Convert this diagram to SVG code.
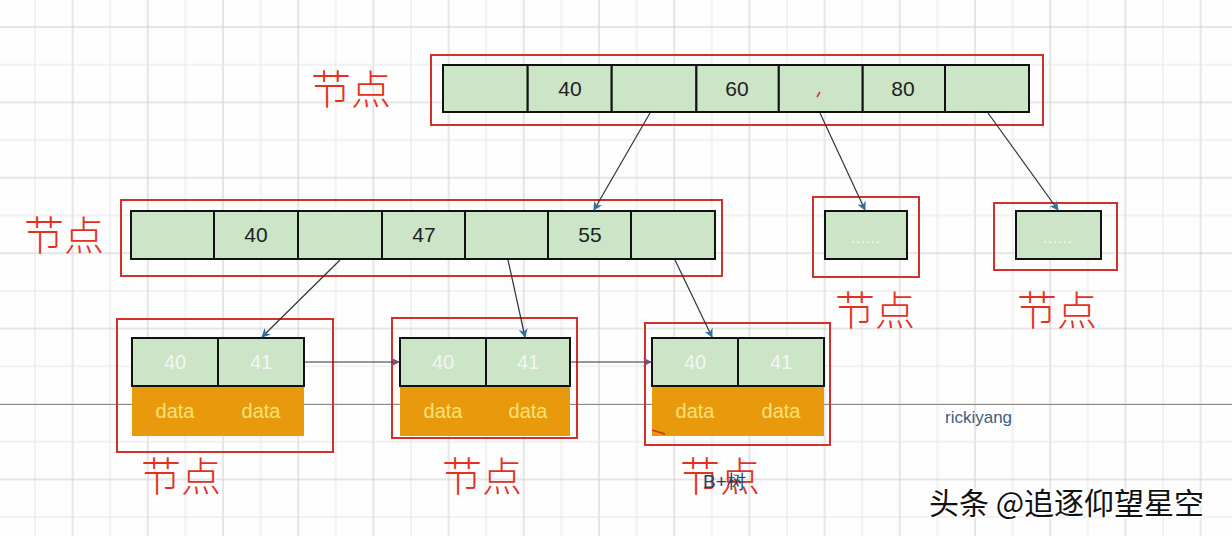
<svg xmlns="http://www.w3.org/2000/svg" width="1232" height="536" viewBox="0 0 1232 536">
  <defs>
    <pattern id="grid" patternUnits="userSpaceOnUse" x="34" y="26" width="75.2" height="75.4">
      <line x1="1" y1="0" x2="1" y2="75.4" stroke="#e6e6e6" stroke-width="1"/>
      <line x1="38.6" y1="0" x2="38.6" y2="75.4" stroke="#cfcfcf" stroke-width="1"/>
      <line x1="0" y1="1" x2="75.2" y2="1" stroke="#cfcfcf" stroke-width="1"/>
      <line x1="0" y1="38.7" x2="75.2" y2="38.7" stroke="#e6e6e6" stroke-width="1"/>
    </pattern>
    <marker id="ah" viewBox="0 0 10 10" refX="9" refY="5" markerWidth="9" markerHeight="9" orient="auto" markerUnits="userSpaceOnUse">
      <path d="M0,0 L10,5 L0,10 L3,5 Z" fill="#2f6e9e"/>
    </marker>
    <marker id="ahp" viewBox="0 0 10 10" refX="9" refY="5" markerWidth="9" markerHeight="9" orient="auto" markerUnits="userSpaceOnUse">
      <path d="M0,0 L10,5 L0,10 L3,5 Z" fill="#8a4a78"/>
    </marker>
  </defs>
  <style>
    .frame{fill:none;stroke:#d4302a;stroke-width:2}
    .cell{fill:#cbe5c6;stroke:#111;stroke-width:2}
    .data{fill:#e99a0c}
    .num{font-family:"Liberation Sans",Arial,sans-serif;font-size:21px;fill:#1e1e1e;text-anchor:middle}
    .wnum{font-family:"Liberation Sans",Arial,sans-serif;font-size:20px;fill:#f4f4f4;text-anchor:middle}
    .dt{font-family:"Liberation Sans",Arial,sans-serif;font-size:20px;fill:#f6e27a;text-anchor:middle}
    .dots{font-family:"Liberation Sans",Arial,sans-serif;font-size:14px;fill:#ffffff;text-anchor:middle;letter-spacing:1px}
    .lbl{font-family:"Noto Sans CJK SC","Noto Sans",sans-serif;font-size:40px;font-weight:300;fill:#e2321f}
    .conn{stroke:#2b3440;stroke-width:1.2;fill:none}
  </style>
  <rect width="1232" height="536" fill="#fdfdfd"/>
  <rect width="1232" height="536" fill="url(#grid)"/>
  <line x1="0" y1="404.5" x2="1232" y2="404.5" stroke="#8c8c8c" stroke-width="1.2"/>

  <g id="root-node">
    <rect class="frame" x="431" y="55" width="612" height="70"/>
    <rect class="cell" x="443" y="65" width="84.7" height="47"/>
    <rect class="cell" x="527.7" y="65" width="84" height="47"/>
    <rect class="cell" x="611.7" y="65" width="84.7" height="47"/>
    <rect class="cell" x="696.4" y="65" width="82.4" height="47"/>
    <rect class="cell" x="778.8" y="65" width="83.9" height="47"/>
    <rect class="cell" x="862.7" y="65" width="82.3" height="47"/>
    <rect class="cell" x="945" y="65" width="84" height="47"/>
    <text class="num" x="570" y="96">40</text>
    <text class="num" x="737" y="96">60</text>
    <text class="num" x="903" y="96">80</text>
    <line x1="817" y1="97" x2="820" y2="92" stroke="#d4302a" stroke-width="1.5"/>
    <text class="lbl" x="311" y="104">节点</text>
  </g>

  <g id="mid-node">
    <rect class="frame" x="121" y="200" width="601" height="76"/>
    <rect class="cell" x="131" y="211" width="83" height="48"/>
    <rect class="cell" x="214" y="211" width="84" height="48"/>
    <rect class="cell" x="298" y="211" width="84" height="48"/>
    <rect class="cell" x="382" y="211" width="83" height="48"/>
    <rect class="cell" x="465" y="211" width="83" height="48"/>
    <rect class="cell" x="548" y="211" width="83" height="48"/>
    <rect class="cell" x="631" y="211" width="84" height="48"/>
    <text class="num" x="256" y="242">40</text>
    <text class="num" x="424" y="242">47</text>
    <text class="num" x="590" y="242">55</text>
    <text class="lbl" x="24" y="250">节点</text>
  </g>

  <g id="right-node-1">
    <rect class="frame" x="813" y="197" width="106" height="80"/>
    <rect class="cell" x="825" y="211" width="82" height="48"/>
    <text class="dots" x="866" y="243">......</text>
    <text class="lbl" x="835" y="325">节点</text>
  </g>

  <g id="right-node-2">
    <rect class="frame" x="994" y="203" width="123" height="67"/>
    <rect class="cell" x="1016" y="211" width="85" height="48"/>
    <text class="dots" x="1058" y="243">......</text>
    <text class="lbl" x="1017" y="325">节点</text>
  </g>

  <g id="leaf-1">
    <rect class="frame" x="117" y="319" width="216" height="133"/>
    <rect class="data" x="132" y="386" width="172" height="50"/>
    <rect class="cell" x="132" y="338" width="86" height="48"/>
    <rect class="cell" x="218" y="338" width="86" height="48"/>
    <text class="wnum" x="175" y="369">40</text>
    <text class="wnum" x="261" y="369">41</text>
    <text class="dt" x="175" y="418">data</text>
    <text class="dt" x="261" y="418">data</text>
    <text class="lbl" x="141" y="491">节点</text>
  </g>

  <g id="leaf-2">
    <rect class="frame" x="392" y="318" width="185" height="120"/>
    <rect class="data" x="400" y="386" width="170" height="50"/>
    <rect class="cell" x="400" y="338" width="86" height="48"/>
    <rect class="cell" x="486" y="338" width="84" height="48"/>
    <text class="wnum" x="443" y="369">40</text>
    <text class="wnum" x="528" y="369">41</text>
    <text class="dt" x="443" y="418">data</text>
    <text class="dt" x="528" y="418">data</text>
    <text class="lbl" x="442" y="491">节点</text>
  </g>

  <g id="leaf-3">
    <rect class="frame" x="645" y="323" width="185" height="122"/>
    <rect class="data" x="652" y="386" width="172" height="50"/>
    <rect class="cell" x="652" y="338" width="86" height="48"/>
    <rect class="cell" x="738" y="338" width="86" height="48"/>
    <text class="wnum" x="695" y="369">40</text>
    <text class="wnum" x="781" y="369">41</text>
    <text class="dt" x="695" y="418">data</text>
    <text class="dt" x="781" y="418">data</text>
    <line x1="652" y1="430" x2="665" y2="434" stroke="#d4302a" stroke-width="1.5"/>
    <text class="lbl" x="680" y="491">节点</text>
    <text x="703" y="488" font-family="Liberation Sans,Arial,sans-serif" font-size="19" fill="#2a3f5f">B+树</text>
  </g>

  <g id="connectors">
    <line class="conn" x1="650" y1="113" x2="594" y2="210" marker-end="url(#ah)"/>
    <line class="conn" x1="820" y1="113" x2="865" y2="210" marker-end="url(#ah)"/>
    <line class="conn" x1="988" y1="113" x2="1058" y2="210" marker-end="url(#ah)"/>
    <line class="conn" x1="340" y1="260" x2="262" y2="337" marker-end="url(#ah)"/>
    <line class="conn" x1="508" y1="260" x2="525" y2="337" marker-end="url(#ah)"/>
    <line class="conn" x1="675" y1="260" x2="712" y2="337" marker-end="url(#ah)"/>
    <line class="conn" x1="305" y1="362" x2="399" y2="362" stroke="#2b4a60" marker-end="url(#ahp)"/>
    <line class="conn" x1="571" y1="362" x2="651" y2="362" stroke="#2b4a60" marker-end="url(#ahp)"/>
  </g>

  <text x="945" y="423" font-family="Liberation Sans,Arial,sans-serif" font-size="17" fill="#3d6080">rickiyang</text>
  <text x="929" y="514" font-family="Noto Sans CJK SC,sans-serif" font-size="30" fill="#111" stroke="#ffffff" stroke-width="3" paint-order="stroke">头条 @追逐仰望星空</text>
</svg>
